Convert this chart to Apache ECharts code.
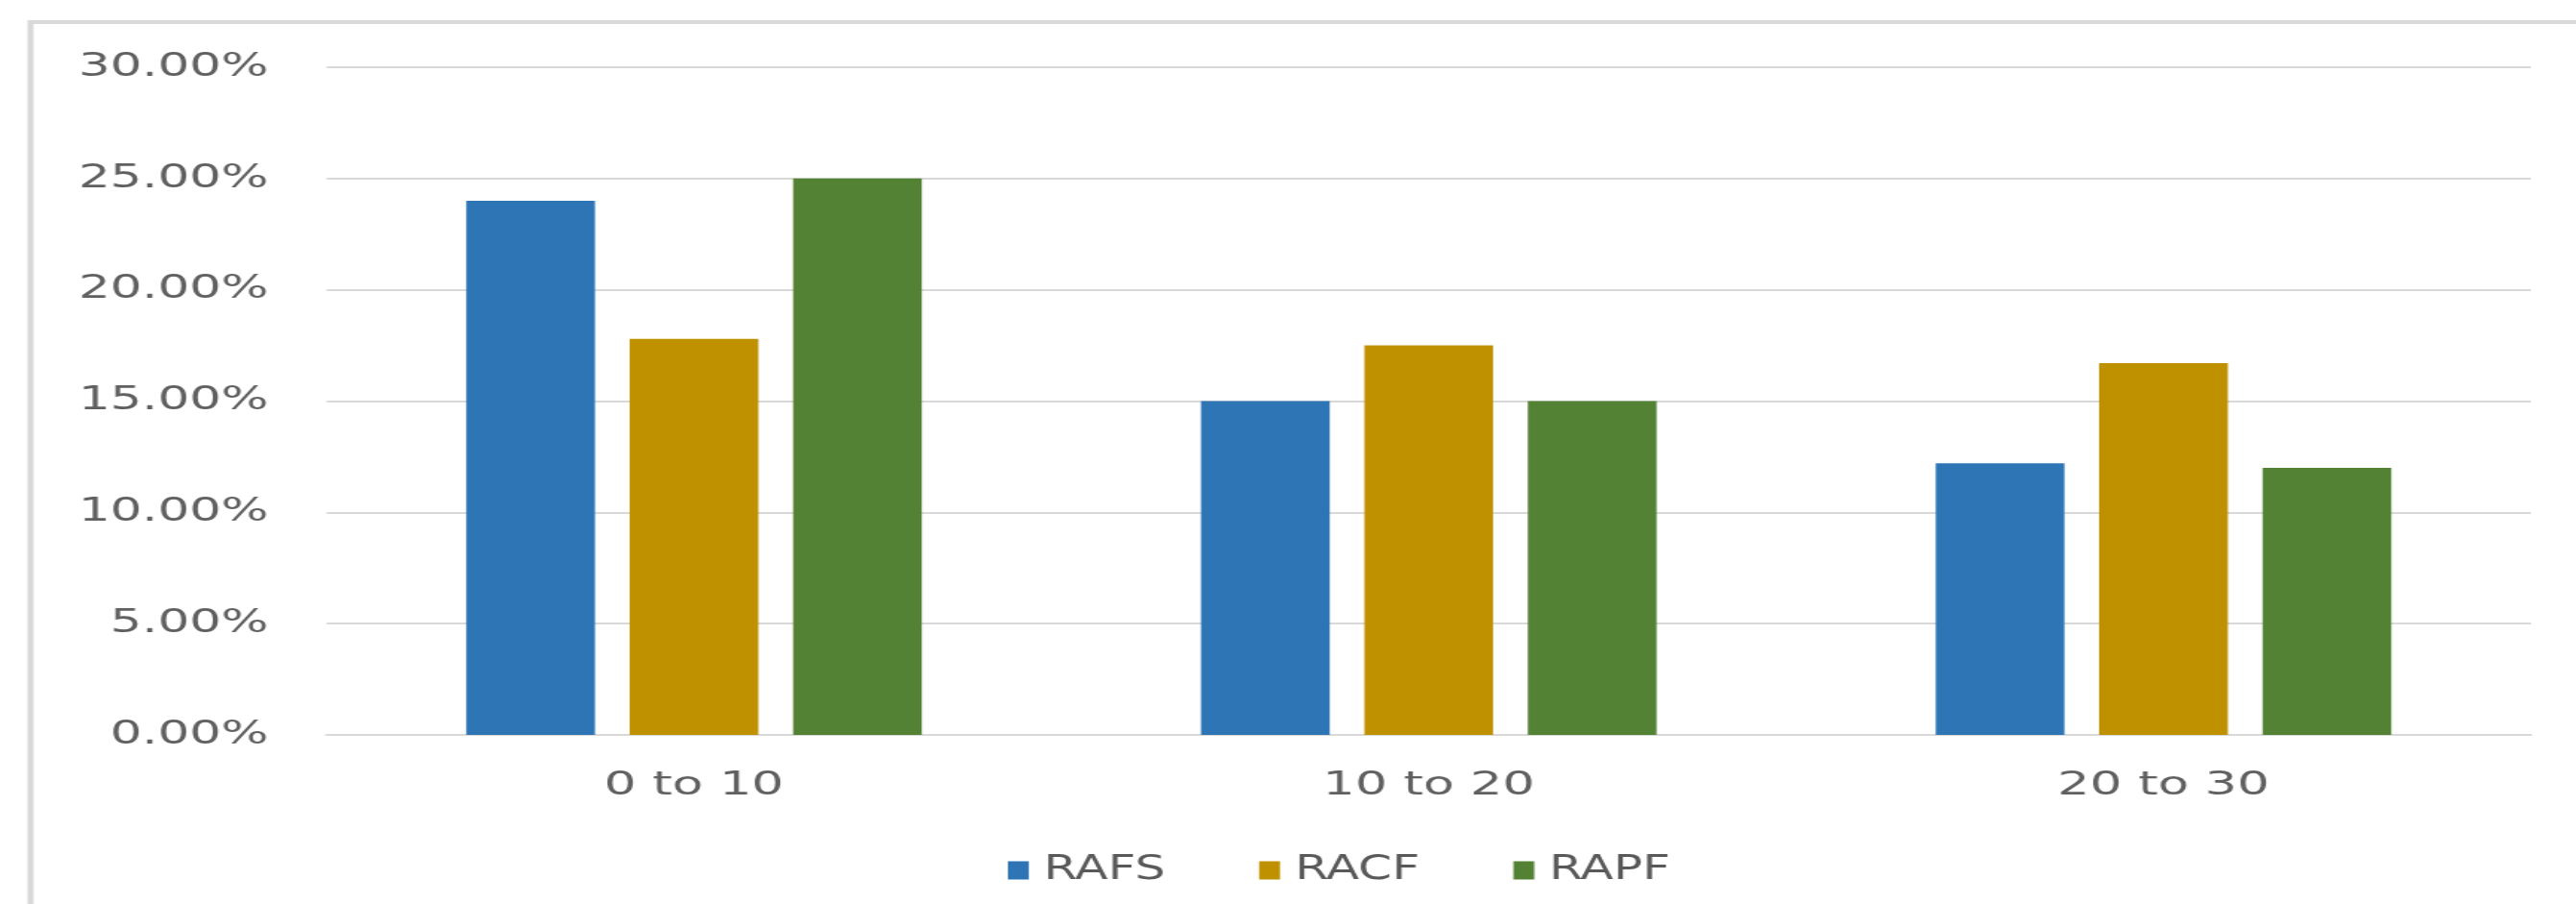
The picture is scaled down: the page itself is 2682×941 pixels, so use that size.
<!DOCTYPE html>
<html>
<head>
<meta charset="utf-8">
<script src="https://cdn.jsdelivr.net/npm/echarts@6/dist/echarts.min.js"></script>
<style>
  html, body { margin: 0; padding: 0; background: #fff; overflow: hidden; width: 2682px; height: 941px; }
  /* the chart is laid out narrower and widened, giving the broad lettering */
  #chart { width: 1730px; height: 941px; transform: scaleX(1.55); transform-origin: 0 0; }
</style>
</head>
<body>
<div id="chart"></div>
<script>
// Age bands on the category axis
const categories = ['0 to 10', '10 to 20', '20 to 30'];
// Share per band, in percent
const rafs = [24.0, 15.0, 12.2];
const racf = [17.8, 17.5, 16.7];
const rapf = [25.0, 15.0, 12.0];
const seriesNames = ['RAFS', 'RACF', 'RAPF'];
// Value axis range and step, in percent
const yMin = 0;
const yMax = 30;
const yStep = 5;

const colors = ['#2e75b6', '#bf9000', '#548235'];
const axisFont = 'DejaVu Sans, Verdana, sans-serif';
const legendFont = "'Liberation Sans Narrow', 'DejaVu Sans Condensed', 'Liberation Sans', sans-serif";

const chart = echarts.init(document.getElementById('chart'), null, { renderer: 'canvas' });

const barSeries = [rafs, racf, rapf].map((vals, i) => ({
  name: seriesNames[i],
  type: 'bar',
  data: vals,
  itemStyle: { color: colors[i] },
  barGap: '27%',
  barCategoryGap: '38%',
  emphasis: { disabled: true }
}));

chart.setOption({
  animation: false,
  backgroundColor: '#ffffff',
  color: colors,
  graphic: [{
    type: 'rect',
    shape: { x: 20.5, y: 23, width: 1800, height: 1000 },
    style: { fill: 'none', stroke: '#d9d9d9', lineWidth: 4 },
    silent: true,
    z: -10
  }],
  grid: { left: 219.4, right: 30, top: 70, bottom: 176, containLabel: false },
  legend: {
    data: seriesNames,
    left: 672,
    top: 883,
    icon: 'rect',
    itemWidth: 14,
    itemHeight: 19,
    itemGap: 63,
    textStyle: { fontFamily: legendFont, fontSize: 36, color: '#595959', padding: [0, 0, 0, 5] }
  },
  xAxis: {
    type: 'category',
    data: categories,
    axisLine: { show: true, lineStyle: { color: '#d9d9d9', width: 2 } },
    axisTick: { show: false },
    axisLabel: { fontFamily: axisFont, fontSize: 34, color: '#606060', margin: 36 }
  },
  yAxis: {
    type: 'value',
    min: yMin,
    max: yMax,
    interval: yStep,
    axisLine: { show: false },
    axisTick: { show: false },
    splitLine: { lineStyle: { color: '#d9d9d9', width: 2 } },
    axisLabel: {
      fontFamily: axisFont,
      fontSize: 33.5,
      color: '#606060',
      margin: 39,
      formatter: v => v.toFixed(2) + '%'
    }
  },
  series: barSeries
});
</script>
</body>
</html>
